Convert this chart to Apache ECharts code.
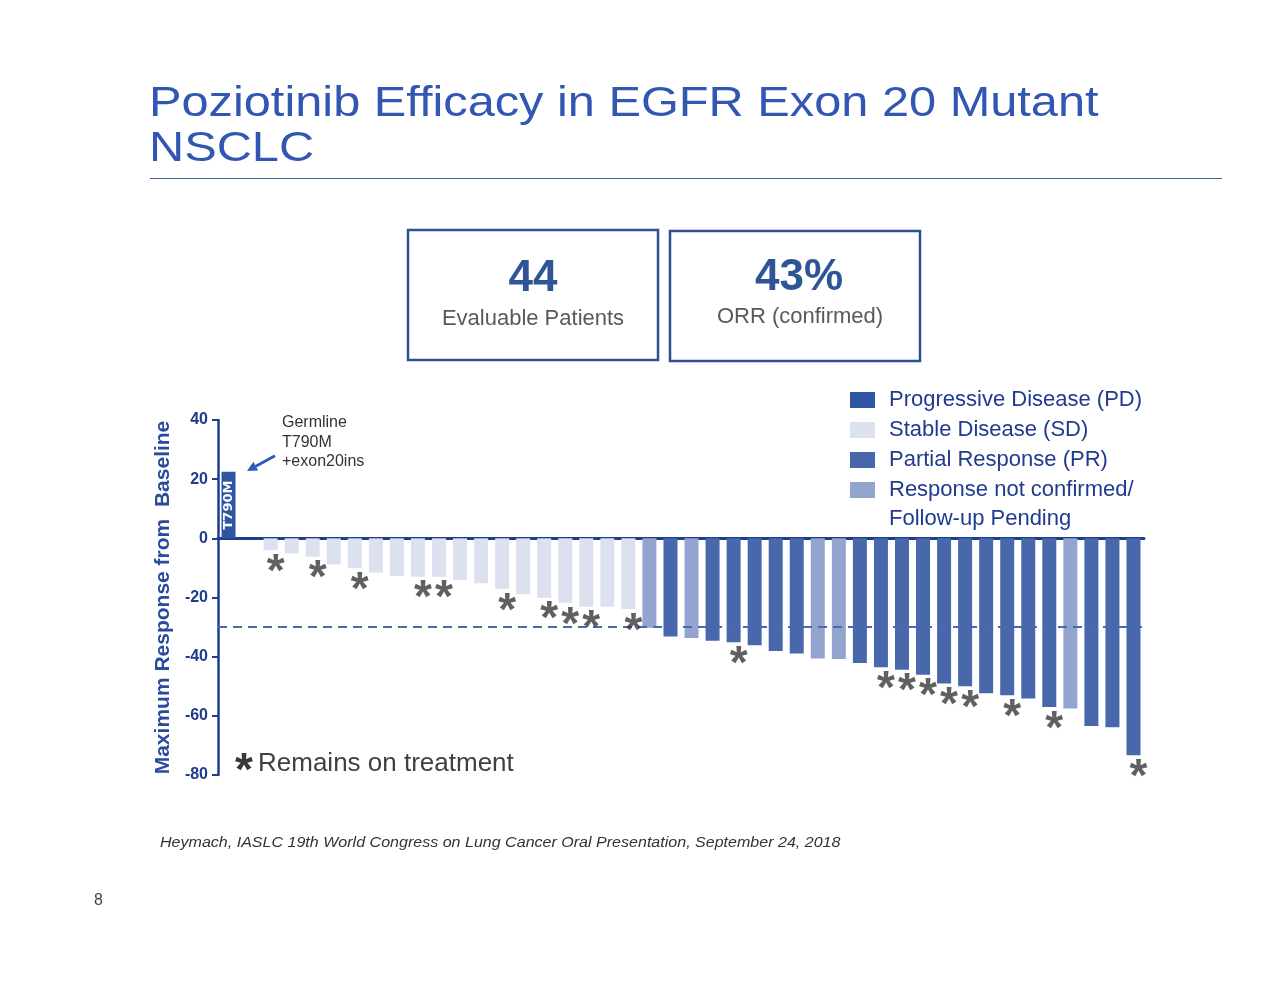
<!DOCTYPE html>
<html>
<head>
<meta charset="utf-8">
<script src="https://cdn.jsdelivr.net/npm/echarts@6/dist/echarts.min.js"></script>
<style>
html,body{margin:0;padding:0;background:#fff;}
#chart{width:1280px;height:989px;}
</style>
</head>
<body>
<div id="chart"></div>
<script>
// ---- data ----
const patients = Array.from({length: 44}, (_, i) => 'Pt ' + (i + 1));
const responseValues = [
  22.5, 0,
  -4.0, -5.1, -6.2, -8.8, -10.1, -11.6, -12.7, -13.0, -13.0, -14.1, -15.2, -17.1, -18.9, -20.1, -21.8, -23.1, -23.1, -23.9,
  -30.2, -33.2, -33.7, -34.6, -35.1, -36.1, -38.1, -38.9, -40.6, -40.8, -42.1, -43.6, -44.4, -46.1, -49.1, -50.0,
  -52.4, -53.0, -54.1, -57.0, -57.5, -63.4, -63.9, -73.3
];
const responseStatus = [
  'PD', 'SD',
  'SD','SD','SD','SD','SD','SD','SD','SD','SD','SD','SD','SD','SD','SD','SD','SD','SD','SD',
  'UC','PR','UC','PR','PR','PR','PR','PR','UC','UC','PR','PR','PR','PR','PR','PR',
  'PR','PR','PR','PR','UC','PR','PR','PR'
];
const remainsOnTreatment = [2, 4, 6, 9, 10, 13, 15, 16, 17, 19, 24, 31, 32, 33, 34, 35, 37, 39, 43];
const barNotes = {0: 'T790M'};
const statusCodes = ['PD', 'SD', 'PR', 'UC'];
const statusNames = ['Progressive Disease (PD)', 'Stable Disease (SD)', 'Partial Response (PR)', 'Response not confirmed/Follow-up Pending'];
const statusColors = ['#2f55a4', '#dce1ef', '#4868ab', '#93a5cf'];
const yTicks = {min: -80, max: 40, step: 20};
const thresholdLine = -30;
const titleLines = ['Poziotinib Efficacy in EGFR Exon 20 Mutant', 'NSCLC'];

// ---- chart ----
const FONT = 'Liberation Sans, Arial, sans-serif';
const chart = echarts.init(document.getElementById('chart'), null, {renderer: 'canvas'});

const barSeries = statusCodes.map((code, k) => {
  const s = {
    name: statusNames[k],
    type: 'bar',
    stack: 'resp',
    barWidth: 14,
    itemStyle: {color: statusColors[k]},
    data: responseValues.map((v, i) => responseStatus[i] === code ? v : '-'),
    z: 2
  };
  if (code === 'PD') {
    s.label = {
      show: true, position: 'inside', rotate: 90,
      formatter: p => barNotes[p.dataIndex] || '',
      color: '#ffffff', fontWeight: 'bold', fontSize: 13, fontFamily: 'DejaVu Sans'
    };
  }
  if (code === 'PR') {
    s.markLine = {
      silent: true, symbol: ['none', 'none'],
      label: {show: false},
      lineStyle: {type: [9, 6], color: '#4a68ad', width: 2},
      data: [{yAxis: thresholdLine}]
    };
  }
  return s;
});

const asteriskSeries = {
  name: 'Remains on treatment',
  type: 'scatter',
  symbol: 'circle',
  symbolSize: 1,
  itemStyle: {color: 'rgba(0,0,0,0)'},
  z: 5,
  data: remainsOnTreatment.map(i => [i, responseValues[i]]),
  label: {
    show: true, position: 'inside', formatter: '*',
    offset: [5, 23],
    color: '#383838', fontSize: 46, fontWeight: 'bold', fontFamily: FONT
  }
};

const option = {
  backgroundColor: '#ffffff',
  animation: false,
  legend: {
    orient: 'vertical', left: 850, top: 385, padding: 0,
    itemWidth: 25, itemHeight: 16, itemGap: 0, icon: 'rect',
    data: statusNames,
    selectedMode: false,
    formatter: name => name === statusNames[3] ? 'Response not confirmed/' : name,
    textStyle: {fontSize: 22, lineHeight: 30, color: '#1f3b8f', fontFamily: FONT, padding: [0, 0, 0, 9]}
  },
  grid: {left: 218, right: 136, top: 420, bottom: 214, containLabel: false},
  xAxis: {
    type: 'category', data: patients,
    axisLine: {show: true, onZero: true, lineStyle: {color: '#1e3d8f', width: 3}},
    axisTick: {show: false}, axisLabel: {show: false}, splitLine: {show: false}
  },
  yAxis: {
    type: 'value', min: yTicks.min, max: yTicks.max, interval: yTicks.step,
    name: 'Maximum Response from  Baseline',
    nameLocation: 'middle', nameRotate: 90, nameGap: 25,
    nameTextStyle: {fontSize: 21, fontWeight: 'bold', color: '#2a4a9e', fontFamily: FONT},
    axisLine: {show: true, lineStyle: {color: '#1e3d8f', width: 2.5}},
    axisTick: {show: true, length: 6, lineStyle: {color: '#1e3d8f', width: 2}},
    axisLabel: {margin: 10, fontSize: 16, fontWeight: 'bold', color: '#1e3c8c', fontFamily: FONT},
    splitLine: {show: false}
  },
  series: barSeries.concat([asteriskSeries]),
  graphic: [
    {type: 'text', x: 149, y: 104, scaleX: 1.16, style: {x: 0, y: 0, text: titleLines[0], align: 'left', verticalAlign: 'middle', font: '42px ' + FONT, fill: '#3157b3'}},
    {type: 'text', x: 149, y: 149, scaleX: 1.16, style: {x: 0, y: 0, text: titleLines[1], align: 'left', verticalAlign: 'middle', font: '42px ' + FONT, fill: '#3157b3'}},
    {type: 'line', shape: {x1: 150, y1: 178.5, x2: 1222, y2: 178.5}, style: {stroke: '#3f65b0', lineWidth: 1}},
    {type: 'rect', shape: {x: 408, y: 230, width: 250, height: 130}, style: {fill: 'none', stroke: '#2e4f91', lineWidth: 2.5}},
    {type: 'rect', shape: {x: 670, y: 231, width: 250, height: 130}, style: {fill: 'none', stroke: '#2e4f91', lineWidth: 2.5}},
    {type: 'text', style: {x: 533, y: 279, text: '44', align: 'center', verticalAlign: 'middle', font: 'bold 44px ' + FONT, fill: '#2f5597'}},
    {type: 'text', style: {x: 533, y: 319, text: 'Evaluable Patients', align: 'center', verticalAlign: 'middle', font: '22px ' + FONT, fill: '#595959'}},
    {type: 'text', style: {x: 799, y: 278, text: '43%', align: 'center', verticalAlign: 'middle', font: 'bold 44px ' + FONT, fill: '#2f5597'}},
    {type: 'text', style: {x: 800, y: 317, text: 'ORR (confirmed)', align: 'center', verticalAlign: 'middle', font: '22px ' + FONT, fill: '#595959'}},
    {type: 'text', style: {x: 889, y: 519, text: 'Follow-up Pending', align: 'left', verticalAlign: 'middle', font: '22px ' + FONT, fill: '#1f3b8f'}},
    {type: 'text', style: {x: 282, y: 413, text: 'Germline\nT790M\n+exon20ins', align: 'left', verticalAlign: 'top', lineHeight: 19.5, font: '16px ' + FONT, fill: '#333333'}},
    {type: 'line', shape: {x1: 275, y1: 455.7, x2: 255.8, y2: 466.2}, style: {stroke: '#2e5cb8', lineWidth: 3}},
    {type: 'polygon', shape: {points: [[247, 471], [258.2, 470.6], [253.4, 461.8]]}, style: {fill: '#2e5cb8'}},
    {type: 'text', style: {x: 244, y: 772, text: '*', align: 'center', verticalAlign: 'middle', font: 'bold 46px ' + FONT, fill: '#383838'}},
    {type: 'text', style: {x: 258, y: 764, text: 'Remains on treatment', align: 'left', verticalAlign: 'middle', font: '26px ' + FONT, fill: '#404040'}},
    {type: 'text', x: 160, y: 843.5, scaleX: 1.146, style: {x: 0, y: 0, text: 'Heymach, IASLC 19th World Congress on Lung Cancer Oral Presentation, September 24, 2018', align: 'left', verticalAlign: 'middle', font: 'italic 14px ' + FONT, fill: '#333333'}},
    {type: 'text', style: {x: 94, y: 901, text: '8', align: 'left', verticalAlign: 'middle', font: '16px ' + FONT, fill: '#444444'}}
  ]
};
chart.setOption(option);
</script>
</body>
</html>
